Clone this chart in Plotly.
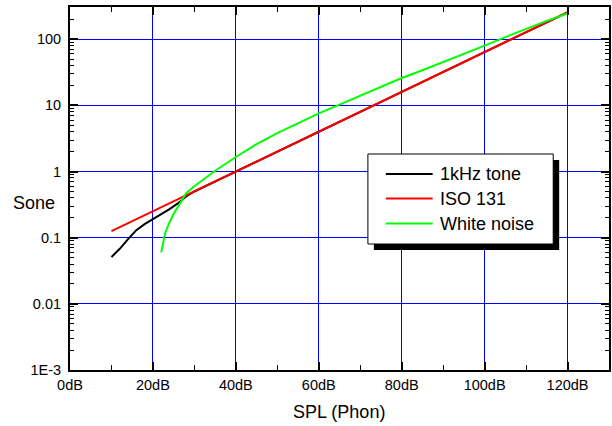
import plotly.graph_objects as go

# ---- data ----
tone_x = [10, 12, 14, 16, 18, 20, 22, 24, 26, 28, 30, 35, 40, 50, 60, 70, 80, 90, 100, 110, 120]
tone_y = [0.051, 0.068, 0.095, 0.13, 0.16, 0.19, 0.23, 0.27, 0.33, 0.42, 0.5, 0.71, 1.0,
          2.0, 4.0, 8.0, 16, 32, 64, 128, 256]

iso_x = [10, 12, 14, 16, 18, 20, 22, 24, 26, 28, 30, 35, 40, 45, 50, 55, 60, 65, 70, 75,
         80, 85, 90, 95, 100, 105, 110, 115, 120]
iso_y = [0.126, 0.145, 0.165, 0.19, 0.22, 0.25, 0.29, 0.33, 0.38, 0.44, 0.5, 0.71, 1.0, 1.41,
         2.0, 2.83, 4.0, 5.66, 8.0, 11.3, 16, 22.6, 32, 45, 64, 90, 128, 181, 256]

noise_x = [22, 23, 24, 25, 26, 28, 30, 32, 35, 40, 45, 50, 55, 60, 65, 70, 75, 80, 85, 90,
           95, 100, 105, 110, 115, 120]
noise_y = [0.06, 0.12, 0.17, 0.23, 0.29, 0.47, 0.6, 0.74, 1.03, 1.66, 2.6, 3.8, 5.4, 7.6,
           10.3, 14, 19, 26, 34, 45, 60, 80, 108, 145, 190, 245]

series_names = ["1kHz tone", "ISO 131", "White noise"]
series_colors = ["#000000", "#ff0000", "#00ff00"]

x_tickvals = [0, 20, 40, 60, 80, 100, 120]
x_ticktext = ["0dB", "20dB", "40dB", "60dB", "80dB", "100dB", "120dB"]
x_minor = [10, 30, 50, 70, 90, 110, 130]
y_tickvals = [0.001, 0.01, 0.1, 1, 10, 100]
y_ticktext = ["1E-3", "0.01", "0.1", "1", "10", "100"]
y_minor = [k * 10 ** e for e in range(-3, 3) for k in range(2, 10)]

# ---- layout geometry (pixels) ----
W, H = 612, 426
L, R, T, B = 70, 1, 7, 56
PW, PH = W - L - R, H - T - B


def fx(px):
    return (px - L) / PW


def fy(py):
    return (H - B - py) / PH


FONT = "Liberation Sans, Arial, sans-serif"

fig = go.Figure()
for xs, ys, name, col in zip([tone_x, iso_x, noise_x], [tone_y, iso_y, noise_y],
                             series_names, series_colors):
    fig.add_trace(go.Scatter(x=xs, y=ys, mode="lines", name=name,
                             line=dict(color=col, width=2), showlegend=False))

fig.update_layout(
    width=W, height=H,
    margin=dict(l=L, r=R, t=T, b=B, pad=0),
    paper_bgcolor="white", plot_bgcolor="white",
    font=dict(family=FONT, color="#000000"),
    showlegend=False,
)

fig.update_xaxes(
    range=[0, 130], tickmode="array", tickvals=x_tickvals, ticktext=x_ticktext,
    tickfont=dict(size=14.5), ticks="inside", ticklen=8, tickwidth=2, tickcolor="black",
    showline=True, linecolor="black", linewidth=2, mirror="ticks",
    showgrid=True, gridcolor="rgb(0,0,255)", gridwidth=1, zeroline=False,
    ticklabelstandoff=1,
    minor=dict(tickmode="array", tickvals=x_minor, ticks="inside", ticklen=5,
               tickwidth=1, tickcolor="black", showgrid=False),
)
fig.update_yaxes(
    type="log", range=[-3, 2.488], tickmode="array", tickvals=y_tickvals, ticktext=y_ticktext,
    tickfont=dict(size=14.5), ticks="inside", ticklen=8, tickwidth=2, tickcolor="black",
    showline=True, linecolor="black", linewidth=2, mirror="ticks",
    showgrid=True, gridcolor="rgb(0,0,255)", gridwidth=1, zeroline=False,
    ticklabelstandoff=4,
    minor=dict(tickmode="array", tickvals=y_minor, ticks="inside", ticklen=4,
               tickwidth=1, tickcolor="black", showgrid=False),
)

# axis titles
fig.add_annotation(text="Sone", xref="paper", yref="paper", x=fx(33.5), y=fy(203),
                   xanchor="center", yanchor="middle", showarrow=False,
                   font=dict(size=18, family=FONT, color="black"))
fig.add_annotation(text="SPL (Phon)", xref="paper", yref="paper", x=fx(340), y=fy(412),
                   xanchor="center", yanchor="middle", showarrow=False,
                   font=dict(size=18, family=FONT, color="black"))

# legend box with shadow
box = (369, 154, 555, 244)
sh = 6
fig.add_shape(type="rect", xref="paper", yref="paper", layer="above",
              x0=fx(box[0] + sh), x1=fx(box[2] + sh), y0=fy(box[3] + sh), y1=fy(box[1] + sh),
              fillcolor="black", line=dict(width=0))
fig.add_shape(type="rect", xref="paper", yref="paper", layer="above",
              x0=fx(box[0]), x1=fx(box[2]), y0=fy(box[3]), y1=fy(box[1]),
              fillcolor="white", line=dict(color="black", width=1))
rows = [174, 198.5, 223.5]
for name, col, ry in zip(series_names, series_colors, rows):
    fig.add_shape(type="line", xref="paper", yref="paper", layer="above",
                  x0=fx(387), x1=fx(434), y0=fy(ry), y1=fy(ry),
                  line=dict(color=col, width=2))
    fig.add_annotation(text=name, xref="paper", yref="paper", x=fx(439), y=fy(ry),
                       xanchor="left", yanchor="middle", showarrow=False,
                       font=dict(size=18, family=FONT, color="black"))

fig.write_html("out.html", config={"displayModeBar": False},
               post_script="document.body.style.margin='0';document.body.style.padding='0';")
